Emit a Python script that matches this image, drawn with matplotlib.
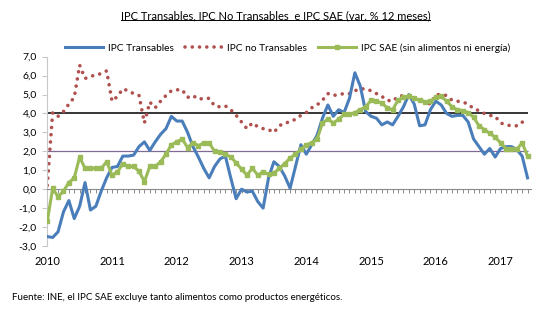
import matplotlib.pyplot as plt
from matplotlib.lines import Line2D
import numpy as np

plt.rcParams['font.family'] = ['Lato', 'DejaVu Sans']

# variacion % 12 meses, mensual, ene-2010 a jun-2017
transables = [
    -2.5, -2.55, -2.25, -1.2, -0.6, -1.55, -0.9, 0.35, -1.1, -0.9, -0.1, 0.6,
    1.15, 1.2, 1.75, 1.75, 1.8, 2.25, 2.5, 2.05, 2.5, 2.9, 3.2, 3.85,
    3.6, 3.6, 3.0, 2.25, 1.7, 1.1, 0.6, 1.2, 1.6, 1.75, 0.6, -0.5,
    0.0, -0.15, -0.1, -0.65, -1.0, 0.6, 1.45, 1.2, 0.7, 0.05, 1.2, 2.35,
    1.85, 2.35, 2.85, 3.75, 4.45, 3.85, 4.2, 4.05, 4.8, 6.15, 5.45, 4.1,
    3.85, 3.75, 3.4, 3.55, 3.4, 3.85, 4.35, 5.0, 4.5, 3.35, 3.4, 4.2,
    4.65, 4.45, 4.0, 3.85, 3.9, 3.9, 3.55, 2.65, 2.25, 1.85, 2.15, 1.7,
    2.15, 2.25, 2.25, 2.1, 1.75, 0.6,
]
no_transables = [
    0.2, 4.05, 3.85, 4.1, 4.5, 4.85, 6.55, 5.85, 5.95, 6.05, 6.1, 6.25,
    4.65, 4.9, 5.3, 5.2, 5.05, 4.95, 3.5, 4.6, 4.3, 4.65, 4.95, 5.2,
    5.25, 5.25, 4.85, 4.95, 4.75, 4.8, 4.8, 4.4, 4.35, 4.4, 4.2, 3.9,
    3.55, 3.2, 3.5, 3.3, 3.2, 3.15, 3.0, 3.35, 3.5, 3.55, 3.7, 3.9,
    4.05, 4.3, 4.45, 4.7, 5.05, 4.95, 5.0, 5.05, 5.05, 5.2, 5.3, 5.3,
    5.2, 5.05, 4.9, 4.7, 4.65, 4.9, 4.95, 4.9, 4.8, 4.7, 4.6, 4.5,
    5.0, 5.0, 4.95, 4.7, 4.65, 4.6, 4.5, 4.25, 4.15, 4.0, 3.9, 3.85,
    3.5, 3.4, 3.35, 3.35, 3.55, 3.3,
]
sae = [
    -1.7, 0.05, -0.4, -0.1, 0.35, 0.6, 1.7, 1.1, 1.1, 1.1, 1.1, 1.45,
    0.75, 0.9, 1.35, 1.2, 1.2, 0.95, 0.4, 1.2, 1.2, 1.45, 1.85, 2.35,
    2.5, 2.65, 2.2, 2.45, 2.3, 2.45, 2.45, 2.0, 1.95, 1.85, 1.7, 1.4,
    1.05, 0.75, 1.1, 0.75, 0.9, 0.8, 0.85, 1.1, 1.35, 1.65, 1.85, 2.1,
    2.35, 2.45, 2.65, 3.5, 3.7, 3.5, 3.7, 3.95, 3.95, 4.05, 4.2, 4.35,
    4.7, 4.65, 4.55, 4.3, 4.2, 4.7, 4.85, 4.9, 4.8, 4.7, 4.6, 4.65,
    4.85, 4.9, 4.65, 4.35, 4.2, 4.15, 4.05, 3.8, 3.35, 3.15, 2.95, 2.75,
    2.45, 2.15, 2.15, 2.1, 2.45, 1.75,
]
years = ['2010', '2011', '2012', '2013', '2014', '2015', '2016', '2017']
y_ticks = [-3, -2, -1, 0, 1, 2, 3, 4, 5, 6, 7]
ref_lines = [4.0, 2.0]

months = np.arange(len(transables))

fig = plt.figure(figsize=(5.51, 3.23), dpi=100)
ax = fig.add_axes([0.0853, 0.2384, 0.878, 0.5861])

ax.hlines(ref_lines[0], months[0], months[-1], color='black', lw=1.1, zorder=1)
ax.hlines(ref_lines[1], months[0], months[-1], color='#7f6b94', lw=0.9, zorder=1)

ax.plot(months, transables, color='#4a7ebb', lw=2.2, label='IPC Transables', zorder=3)
ax.plot(months, no_transables, color='#b0504e', lw=2.6, linestyle=(0, (0.01, 2.0)),
        dash_capstyle='round', label='IPC no Transables', zorder=2)
ax.plot(months, sae, color='#9bbb59', lw=2.2, marker='s', markersize=3,
        label='IPC SAE (sin alimentos ni energía)', zorder=4)

ax.set_xlim(-0.05, 89.6)
ax.set_ylim(-3, 7)

for s in ['top', 'right']:
    ax.spines[s].set_visible(False)
ax.spines['left'].set_color('#c8c8c8')
ax.spines['left'].set_linewidth(0.8)
ax.spines['bottom'].set_position(('data', 0))
ax.spines['bottom'].set_color('#8a8a8a')
ax.spines['bottom'].set_linewidth(0.8)

ax.set_yticks(y_ticks)
ax.set_yticklabels([f'{v:.1f}'.replace('.', ',') for v in y_ticks])
ax.tick_params(axis='y', length=3.5, color='#c8c8c8', labelsize=7.5, pad=4)
ax.set_xticks(months)
ax.tick_params(axis='x', length=3, color='#8a8a8a', width=0.7, labelbottom=False)

for i, yr in enumerate(years):
    ax.annotate(yr, xy=(i * 12, 0), xycoords=('data', 'axes fraction'),
                xytext=(0, -11), textcoords='offset points',
                ha='center', va='center', fontsize=8)

ax.legend(loc='center', bbox_to_anchor=(0.522, 0.851), bbox_transform=fig.transFigure,
          ncol=3, frameon=False, fontsize=7.3, handlelength=3.7, handletextpad=0.5,
          columnspacing=1.1, borderpad=0)

title = fig.text(0.5, 1 - 16 / 323, 'IPC Transables, IPC No Transables  e IPC SAE (var. % 12 meses)',
                 ha='center', va='center', fontsize=8)
fig.text(12 / 551, 1 - 298 / 323,
         'Fuente: INE, el IPC SAE excluye tanto alimentos como productos energéticos.',
         ha='left', va='center', fontsize=7)

fig.canvas.draw()
bb = title.get_window_extent().transformed(fig.transFigure.inverted())
fig.add_artist(Line2D([bb.x0, bb.x1], [bb.y0 + 0.004, bb.y0 + 0.004],
                      transform=fig.transFigure, color='black', lw=0.7))

fig.savefig('out.png', dpi=100)
